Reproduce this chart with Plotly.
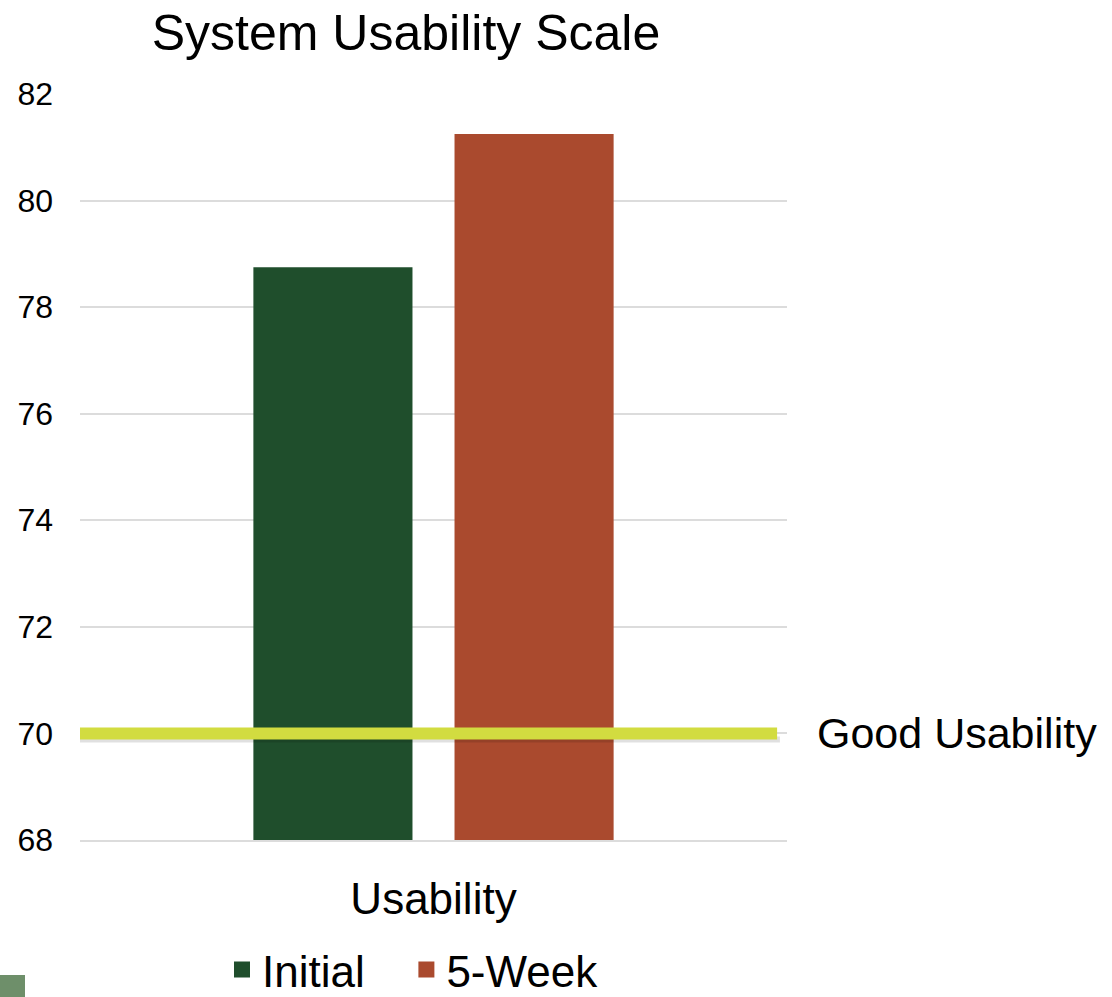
"""System Usability Scale chart."""

import plotly.graph_objects as go

# data
categories = ['Usability']
series_names = ['Initial', '5-Week']
series_values = [[78.75], [81.25]]
series_colors = ['#1f4e2c', '#aa4a2e']
good_threshold = 70
good_label = 'Good Usability'
y_ticks = [68, 70, 72, 74, 76, 78, 80, 82]

FONT = 'Liberation Sans, Arial, sans-serif'
NBSP = '\u00a0'

fig = go.Figure()

for i, (name, vals, color) in enumerate(zip(series_names, series_values, series_colors)):
    fig.add_trace(go.Bar(
        x=categories,
        y=vals,
        name=name,
        legendgroup=name,
        showlegend=False,
        marker=dict(color=color, line=dict(width=0)),
        hovertemplate='<b>' + name + '</b><br>%{y:.2f}<extra></extra>'
    ))
    # legend entry with a bigger square swatch (a little extra room after the first)
    label = name + (NBSP * 3 if i < len(series_names) - 1 else '')
    fig.add_trace(go.Scatter(
        x=[None], y=[None],
        mode='markers',
        name=label,
        legendgroup=name,
        marker=dict(symbol='square', size=26, color=color),
        hoverinfo='skip'
    ))

# soft shadow + threshold line
fig.add_shape(
    type='rect', xref='paper', yref='y',
    x0=0.0, x1=0.99, ysizemode='pixel', yanchor=good_threshold,
    y0=-9, y1=-3, fillcolor='rgba(0,0,0,0.12)', line=dict(width=0),
    layer='above'
)
fig.add_shape(
    type='line', xref='paper', yref='y',
    x0=0.0, x1=0.986, y0=good_threshold, y1=good_threshold,
    line=dict(color='#d2dc40', width=12),
    layer='above'
)
fig.add_annotation(
    x=1.04, xref='paper', y=good_threshold, yref='y',
    text=good_label, showarrow=False, xanchor='left', yanchor='middle',
    font=dict(size=43, color='black', family=FONT)
)

# small corner square from the slide
fig.add_shape(
    type='rect', xref='paper', yref='paper',
    x0=-80 / 707, x1=-55 / 707, y0=-157 / 746, y1=-135 / 746,
    fillcolor='#6e8f6a', line=dict(width=0)
)

fig.update_layout(
    template='none',
    width=1112,
    height=997,
    plot_bgcolor='white',
    paper_bgcolor='white',
    font=dict(family=FONT, color='black'),
    title=dict(
        text='System Usability Scale',
        x=406 / 1112, xanchor='center', xref='container',
        y=1 - 32 / 997, yanchor='middle', yref='container',
        font=dict(size=50, color='black', family=FONT)
    ),
    barmode='group',
    bargap=0.431,
    bargroupgap=0.209,
    margin=dict(l=80, r=325, t=94, b=157, autoexpand=False),
    showlegend=True,
    legend=dict(
        orientation='h', xanchor='left', x=(222 - 80) / 707,
        yanchor='middle', y=-(970 - 840) / 746,
        font=dict(size=44, color='black', family=FONT),
        itemsizing='trace', itemwidth=30, tracegroupgap=0,
        bgcolor='rgba(0,0,0,0)'
    ),
    xaxis=dict(
        automargin=False,
        showgrid=False,
        showline=True, linecolor='#dcdcdc', linewidth=2,
        ticks='', ticklabelstandoff=19,
        tickfont=dict(size=44, color='black', family=FONT)
    ),
    yaxis=dict(
        automargin=False,
        range=[68, 82],
        tickvals=y_ticks,
        showgrid=True, gridcolor='#dcdcdc', gridwidth=2,
        zeroline=False, showline=False, ticks='',
        ticklabelstandoff=26,
        tickfont=dict(size=32, color='black', family=FONT)
    )
)

# drop the default page margin so the figure sits at the window corner
fig.write_html('out.html', config={'displayModeBar': False},
               post_script="document.body.style.margin='0';")
